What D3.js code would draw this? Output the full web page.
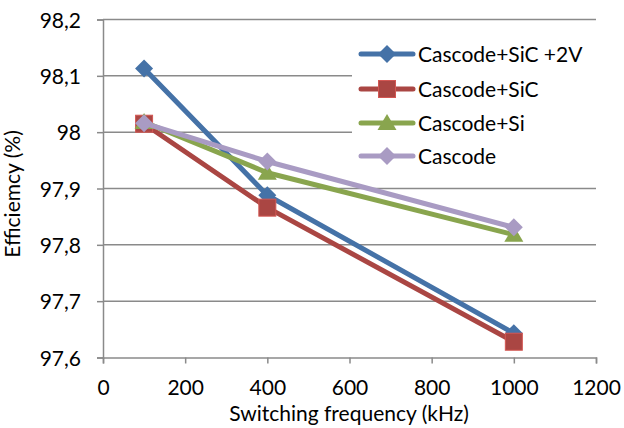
<!DOCTYPE html>
<html>
<head>
<meta charset="utf-8">
<script src="https://cdn.jsdelivr.net/npm/d3@7"></script>
<style>
  body { margin: 0; background: #fff; }
  svg text { font-family: Lato, "Open Sans", sans-serif; fill: #000; }
</style>
</head>
<body>
<div id="chart"></div>
<script>
// data
const freqs = [100, 400, 1000];
const seriesNames = ['Cascode+SiC +2V', 'Cascode+SiC', 'Cascode+Si', 'Cascode'];
const sicPlus2V = [98.113, 97.888, 97.643];
const sic = [98.015, 97.866, 97.628];
const si = [98.018, 97.928, 97.818];
const cascode = [98.016, 97.948, 97.831];
const xTicks = [0, 200, 400, 600, 800, 1000, 1200];
const yTicks = [97.6, 97.7, 97.8, 97.9, 98.0, 98.1, 98.2];

const colors = ['#4572A7', '#AA4643', '#89A54E', '#A99BC3'];
const shapes = ['diamond', 'square', 'triangle', 'diamond'];

const width = 624, height = 428;
const fontSize = 21;
const svg = d3.select('#chart').append('svg')
  .attr('width', width)
  .attr('height', height);

const x = d3.scaleLinear().domain([0, 1200]).range([103, 596]);
const y = d3.scaleLinear().domain([97.6, 98.2]).range([357.5, 19.5]);

// gridlines
svg.append('g')
  .selectAll('line')
  .data(yTicks.slice(1))
  .enter().append('line')
  .attr('x1', x(0)).attr('x2', x(1200))
  .attr('y1', d => y(d)).attr('y2', d => y(d))
  .attr('stroke', '#8a8a8a').attr('stroke-width', 1.5);

// axes
const fmt = d => d3.format('.1f')(d).replace('.0', '').replace('.', ',');
const yAxis = svg.append('g')
  .attr('transform', `translate(${x(0)},0)`)
  .call(d3.axisLeft(y).tickValues(yTicks).tickFormat(fmt).tickSize(6).tickPadding(16));
const xAxis = svg.append('g')
  .attr('transform', `translate(0,${y(97.6)})`)
  .call(d3.axisBottom(x).tickValues(xTicks).tickFormat(d3.format('d')).tickSize(6).tickPadding(17));

[xAxis, yAxis].forEach(a => {
  a.select('.domain').attr('stroke', '#8a8a8a').attr('stroke-width', 1.5);
  a.selectAll('.tick line').attr('stroke', '#8a8a8a').attr('stroke-width', 1.5);
  a.selectAll('.tick text').attr('font-size', fontSize).attr('fill', '#000')
    .style('font-family', 'Lato, sans-serif');
});
yAxis.selectAll('.tick text').attr('dy', '0.36em');

// legend background hides gridlines behind it
svg.append('rect')
  .attr('x', 352).attr('y', 32).attr('width', 250).attr('height', 142)
  .attr('fill', '#fff');

// series
const allSeries = [sicPlus2V, sic, si, cascode];
const line = d3.line().x((d, i) => x(freqs[i])).y(d => y(d));

function marker(g, shape, color, cx, cy) {
  if (shape === 'diamond') {
    const r = 9;
    g.append('path')
      .attr('d', `M${cx},${cy - r}L${cx + r},${cy}L${cx},${cy + r}L${cx - r},${cy}Z`)
      .attr('fill', color);
  } else if (shape === 'square') {
    g.append('rect')
      .attr('x', cx - 8.5).attr('y', cy - 8.5)
      .attr('width', 17).attr('height', 17)
      .attr('fill', color).attr('stroke', d3.color(color).brighter(0.6)).attr('stroke-width', 1);
  } else {
    g.append('path')
      .attr('d', `M${cx},${cy - 9}L${cx + 9.5},${cy + 7}L${cx - 9.5},${cy + 7}Z`)
      .attr('fill', color);
  }
}

allSeries.forEach((vals, s) => {
  const g = svg.append('g');
  g.append('path')
    .datum(vals)
    .attr('d', line)
    .attr('fill', 'none')
    .attr('stroke', colors[s])
    .attr('stroke-width', 5)
    .attr('stroke-linejoin', 'round');
  vals.forEach((v, i) => marker(g, shapes[s], colors[s], x(freqs[i]), y(v)));
});

// legend
const legendY = [54, 89, 123, 156];
seriesNames.forEach((name, s) => {
  const g = svg.append('g');
  g.append('line')
    .attr('x1', 361).attr('x2', 413)
    .attr('y1', legendY[s]).attr('y2', legendY[s])
    .attr('stroke', colors[s]).attr('stroke-width', 5).attr('stroke-linecap', 'round');
  marker(g, shapes[s], colors[s], 387, legendY[s]);
  g.append('text')
    .attr('x', 418).attr('y', legendY[s])
    .attr('dy', '0.36em')
    .attr('font-size', fontSize)
    .text(name);
});

// axis titles
svg.append('text')
  .attr('x', 349).attr('y', 421)
  .attr('text-anchor', 'middle')
  .attr('font-size', 21)
  .text('Switching frequency (kHz)');

svg.append('text')
  .attr('transform', `translate(20,194) rotate(-90)`)
  .attr('text-anchor', 'middle')
  .attr('font-size', fontSize)
  .text('Efficiemcy (%)');
</script>
</body>
</html>
